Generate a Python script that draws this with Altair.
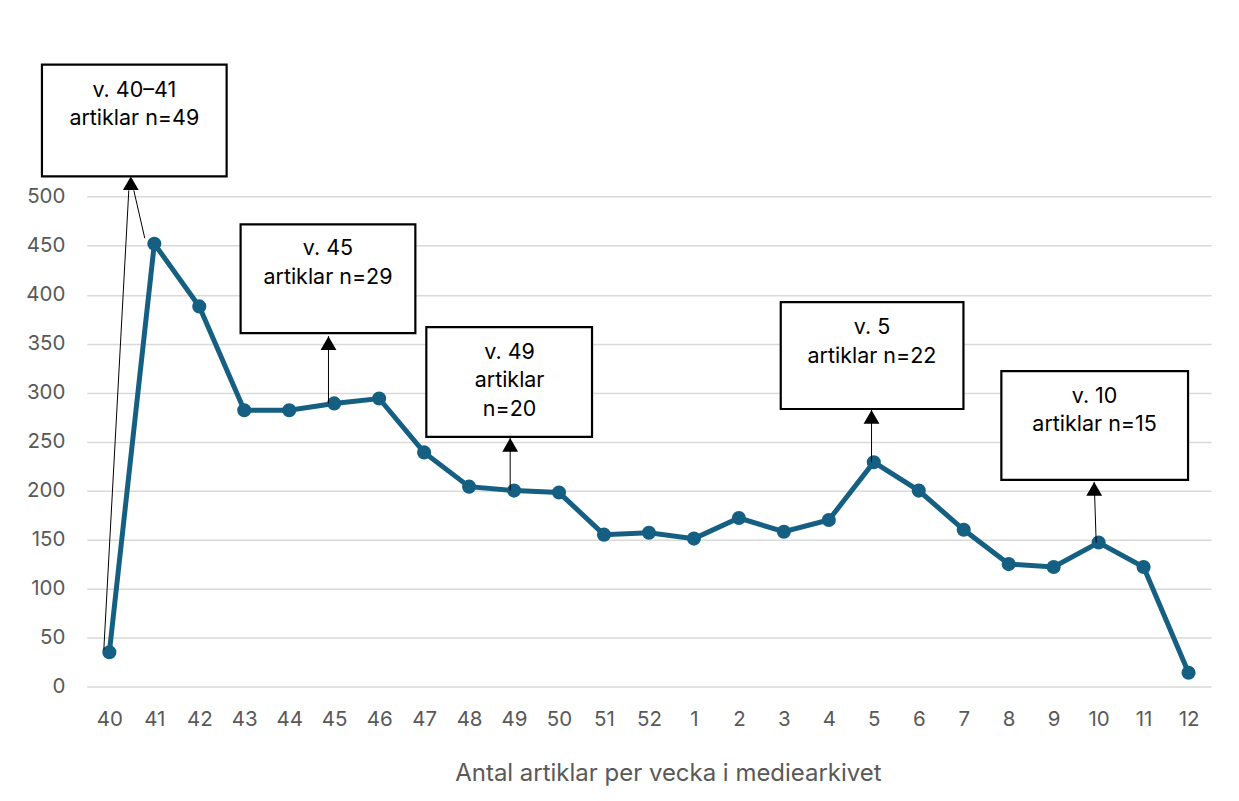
import altair as alt
import pandas as pd

# ---- data ----
weeks = ["40", "41", "42", "43", "44", "45", "46", "47", "48", "49", "50", "51", "52",
         "1", "2", "3", "4", "5", "6", "7", "8", "9", "10", "11", "12"]
counts = [35, 452, 388, 282, 282, 289, 294, 239, 204, 200, 198, 155, 157,
          151, 172, 158, 170, 229, 200, 160, 125, 122, 147, 122, 14]

# annotation boxes (x in week-index units, y in article counts)
box_left = [-1.499, 2.919, 7.049, 14.931, 19.837]
box_right = [2.608, 6.805, 10.734, 18.994, 23.989]
box_top = [634.9, 471.8, 366.9, 392.4, 322.0]
box_bottom = [520.8, 360.8, 254.8, 283.3, 211.0]

label_text = ["v. 40\u201341", "artiklar n=49",
              "v. 45", "artiklar n=29",
              "v. 49", "artiklar", "n=20",
              "v. 5", "artiklar n=22",
              "v. 10", "artiklar n=15"]
label_x = [0.555, 0.555, 4.862, 4.862, 8.90, 8.90, 8.90, 16.96, 16.96, 21.91, 21.91]
label_y = [607.5, 579.0, 446.4, 417.3, 340.9, 311.8, 281.8, 366.4, 336.8, 295.5, 266.5]

arrow_x0 = [-0.123, 0.788, 4.873, 8.914, 16.95, 21.946]
arrow_y0 = [37.7, 457.6, 289, 200, 229, 147]
arrow_x1 = [0.4325, 0.5435, 4.873, 8.914, 16.95, 21.902]
arrow_y1 = [506.5, 506.5, 357.7, 253.8, 282.3, 208.9]
head_x = [0.477, 4.873, 8.914, 16.95, 21.902]
head_y = [513.7, 350.6, 246.7, 275.2, 201.8]

# ---- tables ----
df = pd.DataFrame({"idx": list(range(len(weeks))), "week": weeks, "count": counts})
boxes = pd.DataFrame({"x0": box_left, "x1": box_right, "y0": box_bottom, "y1": box_top})
labels = pd.DataFrame({"x": label_x, "y": label_y, "t": label_text})
arrows = pd.DataFrame({"x0": arrow_x0, "y0": arrow_y0, "x1": arrow_x1, "y1": arrow_y1})
heads = pd.DataFrame({"x": head_x, "y": head_y})

FONT = "Inter"
GRAY = "#595959"
BLUE = "#156082"

label_expr = "[" + ",".join("'%s'" % w for w in weeks) + "][datum.value]"

xscale = alt.Scale(domain=[-0.5, len(weeks) - 0.5], nice=False, zero=False)
yscale = alt.Scale(domain=[0, 640], nice=False)

x_axis = alt.Axis(values=list(range(len(weeks))), labelExpr=label_expr, grid=False,
                  ticks=False, domain=False, labelFontSize=20.5, labelColor=GRAY,
                  labelFont=FONT, labelPadding=23, labelFlush=False, labelOverlap=False,
                  title="Antal artiklar per vecka i mediearkivet", titleFontSize=24,
                  titleFont=FONT, titleColor=GRAY, titleFontWeight="normal",
                  titlePadding=32, titleX=582, titleAlign="center")
y_axis = alt.Axis(values=list(range(0, 501, 50)), grid=True, gridColor="#d9d9d9",
                  gridWidth=1.5, ticks=False, domain=False, labelFontSize=20.5,
                  labelColor=GRAY, labelFont=FONT, labelPadding=22, title=None)

line = alt.Chart(df).mark_line(color=BLUE, strokeWidth=5).encode(
    x=alt.X("idx:Q", scale=xscale, axis=x_axis),
    y=alt.Y("count:Q", scale=yscale, axis=y_axis),
)
pts = alt.Chart(df).mark_point(filled=True, color=BLUE, size=200, opacity=1).encode(
    x=alt.X("idx:Q", scale=xscale),
    y=alt.Y("count:Q", scale=yscale),
)
rects = alt.Chart(boxes).mark_rect(fill="white", stroke="black", strokeWidth=2.2).encode(
    x=alt.X("x0:Q", scale=xscale), x2="x1:Q",
    y=alt.Y("y0:Q", scale=yscale), y2="y1:Q",
)
rules = alt.Chart(arrows).mark_rule(color="black", strokeWidth=1).encode(
    x=alt.X("x0:Q", scale=xscale), x2="x1:Q",
    y=alt.Y("y0:Q", scale=yscale), y2="y1:Q",
)
tri = alt.Chart(heads).mark_point(shape="triangle-up", filled=True, color="black",
                                  size=250, opacity=1).encode(
    x=alt.X("x:Q", scale=xscale),
    y=alt.Y("y:Q", scale=yscale),
)
texts = alt.Chart(labels).mark_text(font=FONT, fontSize=21.5, color="black",
                                    baseline="middle", align="center").encode(
    x=alt.X("x:Q", scale=xscale),
    y=alt.Y("y:Q", scale=yscale),
    text="t:N",
)

chart = alt.layer(line, pts, rules, tri, rects, texts).properties(
    width=1126, height=628,
    autosize=alt.AutoSizeParams(type="none"),
    padding={"left": 79, "top": 51, "right": 20, "bottom": 100},
    background="white",
).configure_view(stroke=None)

chart.save("out.html", embed_options={"renderer": "svg", "actions": False})
